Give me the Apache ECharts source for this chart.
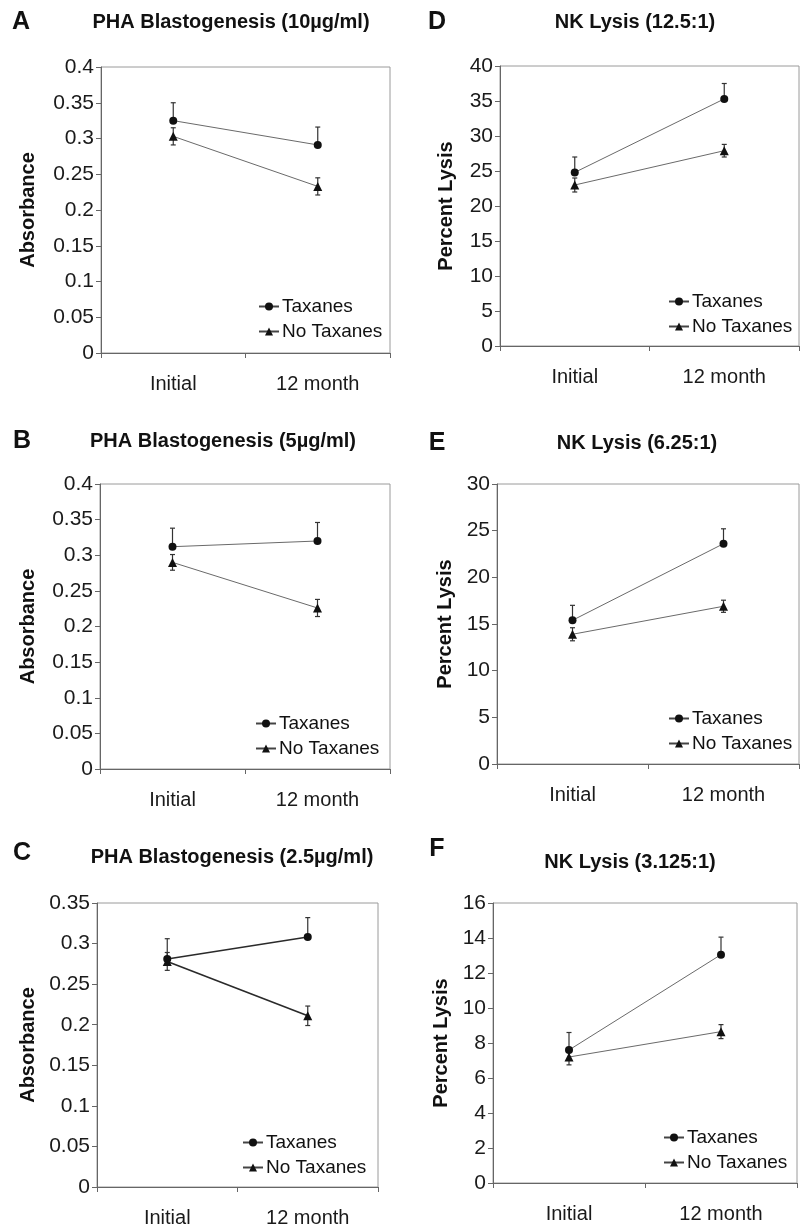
<!DOCTYPE html>
<html>
<head>
<meta charset="utf-8">
<script src="https://cdn.jsdelivr.net/npm/echarts@6/dist/echarts.min.js"></script>
<style>
html,body{margin:0;padding:0;background:#fff;}
#chart{width:801px;height:1229px;}
</style>
</head>
<body>
<div id="chart"></div>
<script>
// ---- data ----
const categories = ['Initial', '12 month'];
const seriesNames = ['Taxanes', 'No Taxanes'];
const panelLetters = ['A', 'B', 'C', 'D', 'E', 'F'];
const panelTitles = ['PHA Blastogenesis (10µg/ml)', 'PHA Blastogenesis (5µg/ml)', 'PHA Blastogenesis (2.5µg/ml)',
  'NK Lysis (12.5:1)', 'NK Lysis (6.25:1)', 'NK Lysis (3.125:1)'];
const yAxisNames = ['Absorbance', 'Absorbance', 'Absorbance', 'Percent Lysis', 'Percent Lysis', 'Percent Lysis'];
const yMax = [0.4, 0.4, 0.35, 40, 30, 16];
const yStep = [0.05, 0.05, 0.05, 5, 5, 2];

const taxanesA = [0.325, 0.291];   const taxanesErrA = [0.025, 0.025];
const noTaxanesA = [0.303, 0.233]; const noTaxanesErrA = [0.012, 0.012];
const taxanesB = [0.312, 0.320];   const taxanesErrB = [0.026, 0.026];
const noTaxanesB = [0.290, 0.226]; const noTaxanesErrB = [0.011, 0.012];
const taxanesC = [0.281, 0.308];   const taxanesErrC = [0.025, 0.024];
const noTaxanesC = [0.278, 0.211]; const noTaxanesErrC = [0.011, 0.012];
const taxanesD = [24.8, 35.3];     const taxanesErrD = [2.2, 2.2];
const noTaxanesD = [23.0, 27.9];   const noTaxanesErrD = [1.0, 0.9];
const taxanesE = [15.4, 23.6];     const taxanesErrE = [1.6, 1.6];
const noTaxanesE = [13.9, 16.9];   const noTaxanesErrE = [0.7, 0.65];
const taxanesF = [7.6, 13.05];     const taxanesErrF = [1.0, 1.0];
const noTaxanesF = [7.2, 8.65];    const noTaxanesErrF = [0.45, 0.4];

const taxanes = [taxanesA, taxanesB, taxanesC, taxanesD, taxanesE, taxanesF];
const taxanesErr = [taxanesErrA, taxanesErrB, taxanesErrC, taxanesErrD, taxanesErrE, taxanesErrF];
const noTaxanes = [noTaxanesA, noTaxanesB, noTaxanesC, noTaxanesD, noTaxanesE, noTaxanesF];
const noTaxanesErr = [noTaxanesErrA, noTaxanesErrB, noTaxanesErrC, noTaxanesErrD, noTaxanesErrE, noTaxanesErrF];

// ---- layout (pixels) ----
const FONT = '"Liberation Sans", Arial, sans-serif';
const grids = [
  {left: 101, top: 67, width: 289, height: 286},
  {left: 100, top: 484, width: 290, height: 285},
  {left: 97, top: 903, width: 281, height: 284},
  {left: 500, top: 66, width: 299, height: 280},
  {left: 497, top: 484, width: 302, height: 280},
  {left: 493, top: 903, width: 304, height: 280}
];
const nameGaps = [63, 62, 59, 44, 42, 42];
const titlePos = [[231, 22], [223, 441], [232, 857], [635, 22], [637, 443], [630, 862]];
const letterPos = [[21, 22], [22, 441], [22, 853], [437, 22], [437, 443], [437, 849]];
const legendPos = [[258, 297], [255, 714], [242, 1133], [668, 292], [668, 709], [663, 1128]];
const lineColors = ['#6a6a6a', '#6a6a6a', '#2a2a2a', '#6a6a6a', '#6a6a6a', '#6a6a6a'];
const lineWidths = [1, 1, 1.6, 1, 1, 1];

function errSeries(gi, vals, errs, both, color) {
  return {
    type: 'custom', xAxisIndex: gi, yAxisIndex: gi, z: 1, silent: true,
    data: vals.map((v, i) => [i, v, errs[i]]),
    encode: {x: 0, y: 1},
    renderItem: function (params, api) {
      const x = api.value(0), v = api.value(1), e = api.value(2);
      const top = api.coord([x, v + e]);
      const bot = api.coord([x, both ? v - e : v]);
      const cw = 2.5;
      const st = {stroke: color, lineWidth: 1.2};
      const ch = [
        {type: 'line', shape: {x1: top[0], y1: top[1], x2: bot[0], y2: bot[1]}, style: st},
        {type: 'line', shape: {x1: top[0] - cw, y1: top[1], x2: top[0] + cw, y2: top[1]}, style: st}
      ];
      if (both) ch.push({type: 'line', shape: {x1: bot[0] - cw, y1: bot[1], x2: bot[0] + cw, y2: bot[1]}, style: st});
      return {type: 'group', children: ch};
    }
  };
}

const option = {
  backgroundColor: '#fff',
  animation: false,
  grid: grids.map(g => Object.assign({show: true, borderColor: '#9a9a9a', borderWidth: 1, backgroundColor: 'transparent'}, g)),
  xAxis: grids.map((g, i) => ({
    type: 'category', gridIndex: i, data: categories, boundaryGap: true,
    axisLine: {lineStyle: {color: '#666', width: 1}},
    axisTick: {show: true, length: 5, alignWithLabel: false, lineStyle: {color: '#666'}},
    axisLabel: {color: '#1a1a1a', fontFamily: FONT, fontSize: 20, margin: 21}
  })),
  yAxis: grids.map((g, i) => ({
    type: 'value', gridIndex: i, min: 0, max: yMax[i], interval: yStep[i],
    name: yAxisNames[i], nameLocation: 'middle', nameGap: nameGaps[i],
    nameTextStyle: {fontFamily: FONT, fontSize: 20, fontWeight: 'bold', color: '#111'},
    axisLine: {show: true, lineStyle: {color: '#666', width: 1}},
    axisTick: {show: true, length: 5, lineStyle: {color: '#666'}},
    axisLabel: {color: '#1a1a1a', fontFamily: FONT, fontSize: 21, margin: 7},
    splitLine: {show: false}
  })),
  legend: grids.map((g, i) => ({
    orient: 'vertical', left: legendPos[i][0], top: legendPos[i][1],
    data: seriesNames.map(n => ({name: n, lineStyle: {color: '#444'}})), selectedMode: false,
    itemWidth: 20, itemHeight: 10, itemGap: 6,
    textStyle: {fontFamily: FONT, fontSize: 19, color: '#111', padding: [0, 0, 0, -2]},
    padding: 0
  })),
  graphic: [].concat(
    panelTitles.map((t, i) => ({
      type: 'text', x: titlePos[i][0], y: titlePos[i][1], z: 10,
      style: {text: t, font: 'bold 20px ' + FONT, fill: '#111', textAlign: 'center', textVerticalAlign: 'middle'}
    })),
    panelLetters.map((t, i) => ({
      type: 'text', x: letterPos[i][0], y: letterPos[i][1], z: 10,
      style: {text: t, font: 'bold 25px ' + FONT, fill: '#111', textAlign: 'center', textVerticalAlign: 'middle'}
    }))
  ),
  series: []
};

for (let i = 0; i < 6; i++) {
  option.series.push(errSeries(i, taxanes[i], taxanesErr[i], false, '#333'));
  option.series.push(errSeries(i, noTaxanes[i], noTaxanesErr[i], true, '#333'));
  option.series.push({
    name: seriesNames[0], type: 'line', xAxisIndex: i, yAxisIndex: i, z: 3,
    data: taxanes[i], symbol: 'circle', symbolSize: 8,
    lineStyle: {color: lineColors[i], width: lineWidths[i]},
    itemStyle: {color: '#111'}
  });
  option.series.push({
    name: seriesNames[1], type: 'line', xAxisIndex: i, yAxisIndex: i, z: 3,
    data: noTaxanes[i], symbol: 'triangle', symbolSize: 9,
    lineStyle: {color: lineColors[i], width: lineWidths[i]},
    itemStyle: {color: '#111'}
  });
}

const chart = echarts.init(document.getElementById('chart'), null, {renderer: 'canvas'});
chart.setOption(option);
</script>
</body>
</html>
